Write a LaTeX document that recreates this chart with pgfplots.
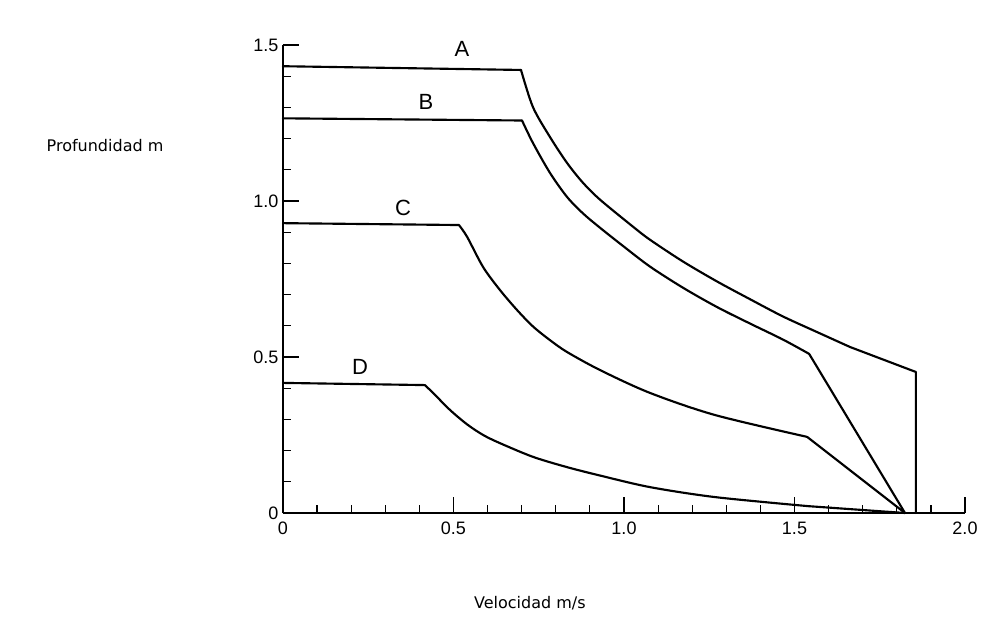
\documentclass[border=0pt]{standalone}
\usepackage{fontspec}
\setmainfont{DejaVu Sans}
\newfontfamily\tickfont{Liberation Sans}
\usepackage{pgfplots}
\pgfplotsset{compat=1.18}
\begin{document}
\begin{tikzpicture}
\useasboundingbox (-212.25pt,-95.25pt) rectangle (529.5pt,384.75pt);
\begin{axis}[
  at={(0,0)}, anchor=south west,
  scale only axis, width=511.5pt, height=351pt,
  xmin=0, xmax=2, ymin=0, ymax=1.5,
  axis lines*=left,
  axis line style={line width=1.1pt},
  clip=false,
  xtick={0,0.5,1,1.5,2}, xticklabels={0,0.5,1.0,1.5,2.0},
  ytick={0,0.5,1,1.5}, yticklabels={0,0.5,1.0,1.5},
  minor tick num=4,
  tick align=inside,
  major tick length=12pt, minor tick length=6pt,
  every tick/.style={line width=0.9pt, black},
  tick label style={font=\tickfont\fontsize{13.5}{15}\selectfont},
  xticklabel style={yshift=-3pt},
  crv/.style={black, line width=1.6pt, line join=round, line cap=round, no markers, solid},
]
% Curve A
\addplot[crv] coordinates {(0,1.432) (0.698,1.420)};
\addplot[crv, smooth] coordinates {(0.698,1.420) (0.733,1.301) (0.783,1.205) (0.833,1.122) (0.880,1.058) (0.930,1.004) (1.026,0.918) (1.076,0.876) (1.173,0.806) (1.273,0.742) (1.370,0.685) (1.466,0.630) (1.566,0.580) (1.663,0.532)};
\addplot[crv] coordinates {(1.663,0.532) (1.856,0.452) (1.856,0)};
% Curve B
\addplot[crv] coordinates {(0,1.265) (0.701,1.258)};
\addplot[crv, smooth] coordinates {(0.701,1.258) (0.733,1.186) (0.783,1.090) (0.833,1.013) (0.880,0.960) (0.930,0.914) (0.997,0.856) (1.076,0.790) (1.173,0.722) (1.273,0.660) (1.370,0.607) (1.466,0.556) (1.543,0.510)};
\addplot[crv] coordinates {(1.543,0.510) (1.824,0)};
% Curve C
\addplot[crv] coordinates {(0,0.929) (0.516,0.923)};
\addplot[crv, smooth] coordinates {(0.516,0.923) (0.540,0.885) (0.587,0.788) (0.636,0.715) (0.686,0.651) (0.733,0.598) (0.783,0.554) (0.833,0.516) (0.930,0.458) (1.076,0.385) (1.267,0.314) (1.537,0.244)};
\addplot[crv] coordinates {(1.537,0.244) (1.824,0)};
% Curve D
\addplot[crv] coordinates {(0,0.417) (0.416,0.410)};
\addplot[crv, smooth] coordinates {(0.416,0.410) (0.440,0.385) (0.490,0.330) (0.540,0.284) (0.587,0.250) (0.636,0.224) (0.733,0.180) (0.833,0.147) (0.930,0.120) (1.076,0.083) (1.267,0.051) (1.540,0.022)};
\addplot[crv] coordinates {(1.540,0.022) (1.824,0)};
% curve labels
\node[font=\tickfont\fontsize{16.5}{18}\selectfont] at (axis cs:0.525,1.487) {A};
\node[font=\tickfont\fontsize{16.5}{18}\selectfont] at (axis cs:0.419,1.317) {B};
\node[font=\tickfont\fontsize{16.5}{18}\selectfont] at (axis cs:0.352,0.978) {C};
\node[font=\tickfont\fontsize{16.5}{18}\selectfont] at (axis cs:0.226,0.468) {D};
% axis titles
\node[anchor=base east, font=\fontsize{12}{14}\selectfont] at (axis cs:-0.337,1.160) {Profundidad m};
\node[font=\fontsize{12}{14}\selectfont] at (axis cs:0.724,-0.288) {Velocidad m/s};
\end{axis}
\end{tikzpicture}
\end{document}
